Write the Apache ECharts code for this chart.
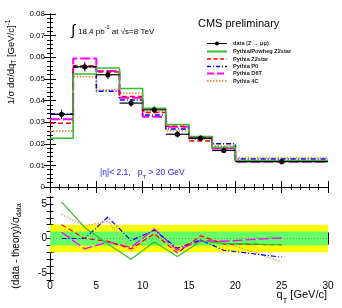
<!DOCTYPE html>
<html><head><meta charset="utf-8">
<script src="https://cdn.jsdelivr.net/npm/echarts/dist/echarts.min.js"></script>
<style>html,body{margin:0;padding:0;background:#fff}#c{width:342px;height:308px}</style>
</head><body><div id="c"></div>
<script>
// ---- data ----
const binEdges   = [0, 2.5, 5, 7.5, 10, 12.5, 15, 17.5, 20, 30];
const binCenters = [1.25, 3.75, 6.25, 8.75, 11.25, 13.75, 16.25, 18.75, 25];
const dataVals   = [0.0336, 0.0556, 0.0519, 0.0388, 0.0357, 0.0244, 0.0226, 0.0169, 0.0117];
const dataErr    = [0.0022, 0.0022, 0.0020, 0.0017, 0.0016, 0.0015, 0.0012, 0.0010, 0.0005];
const powhegZ2star = [0.0225, 0.0523, 0.0550, 0.0456, 0.0364, 0.0289, 0.0233, 0.0183, 0.0122];
const pythiaZ2star = [0.0295, 0.0561, 0.0532, 0.0419, 0.0345, 0.0281, 0.0213, 0.0183, 0.0120];
const pythiaP0     = [0.0337, 0.0555, 0.0443, 0.0402, 0.0333, 0.0268, 0.0225, 0.0200, 0.0129];
const pythiaD6T    = [0.0313, 0.0594, 0.0536, 0.0413, 0.0325, 0.0279, 0.0227, 0.0178, 0.0117];
const pythia4C     = [0.0259, 0.0510, 0.0448, 0.0433, 0.0348, 0.0260, 0.0222, 0.0190, 0.0135];
// pulls (data - theory)/sigma_data
const pullPowheg = [5.3, 1.6, -0.8, -3.0, -0.5, -2.6, -0.4, -0.7, -0.9];
const pullZ2star = [2.0, 0.0, -0.4, -1.5, 0.7, -2.1, 0.4, -0.8, -0.9];
const pullP0     = [0.0, 0.0, 3.1, -0.3, 1.2, -1.4, -0.2, -1.7, -2.7];
const pullD6T    = [0.9, -1.5, -0.5, -1.3, 1.4, -1.7, -0.3, -0.4, 0.1];
const pull4C     = [3.5, 1.8, 2.5, -1.8, 0.7, -1.6, 0.2, -0.5, -3.4];
const legendLabels = ['data (Z \u2192 \u03bc\u03bc)', 'Pythia/Powheg Z2star', 'Pythia Z2star', 'Pythia P0', 'Pythia D6T', 'Pythia 4C'];

// ---- styles ----
const C = {green:'#33bb33', red:'#ff0000', blue:'#0000ff', mag:'#ff00ff', orange:'#e89a50'};
const LS = {
  green: 'solid', red: [5,3], blue: [5,2,1,2], mag: [10,3], orange: [1.5,1.5]
};
const FONT = '"Liberation Sans", Arial, sans-serif';

function stepData(vals){
  const d = vals.map((v,i)=>[binEdges[i], v]);
  d.push([binEdges[binEdges.length-1], vals[vals.length-1]]);
  return d;
}
function pullData(vals){ return vals.map((v,i)=>[binCenters[i], v]); }

const chart = echarts.init(document.getElementById('c'), null, {renderer:'canvas'});

const frameLine = {show:true, lineStyle:{color:'#000', width:1}};
function xAx(grid, pos, labels){
  return {type:'value', gridIndex:grid, position:pos, min:0, max:30, interval:5,
    axisLine:frameLine, splitLine:{show:false},
    axisTick:{show:true, inside:true, length:6, lineStyle:{color:'#000'}},
    minorTick:{show:true, splitNumber:5, length:3, lineStyle:{color:'#000'}},
    axisLabel:{show:labels, color:'#000', fontSize:10, fontFamily:FONT, margin:1}};
}

const option = {
  animation:false,
  backgroundColor:'#fff',
  grid:[
    {left:50, top:14, width:278, height:173},
    {left:50, top:197, width:278, height:83}
  ],
  xAxis:[ xAx(0,'bottom',false), xAx(0,'top',false), xAx(1,'bottom',true), xAx(1,'top',false) ],
  yAxis:[
    {type:'value', gridIndex:0, position:'left', min:0, max:0.08, interval:0.01,
      axisLine:frameLine, splitLine:{show:false},
      axisTick:{show:true, inside:true, length:6, lineStyle:{color:'#000'}},
      minorTick:{show:true, splitNumber:5, length:3, lineStyle:{color:'#000'}},
      axisLabel:{color:'#000', fontSize:8, fontFamily:FONT, margin:5,
        formatter:v=> v===0 ? '0' : v.toFixed(2)}},
    {type:'value', gridIndex:0, position:'right', min:0, max:0.08, interval:0.01,
      axisLine:frameLine, splitLine:{show:false},
      axisTick:{show:true, inside:true, length:6, lineStyle:{color:'#000'}},
      minorTick:{show:true, splitNumber:5, length:3, lineStyle:{color:'#000'}},
      axisLabel:{show:false}},
    {type:'value', gridIndex:1, position:'left', min:-6, max:6, interval:1,
      axisLine:frameLine, splitLine:{show:false},
      axisTick:{show:true, inside:true, length:3.5, lineStyle:{color:'#000'}},
      axisLabel:{color:'#000', fontSize:10, fontFamily:FONT, margin:3,
        formatter:v=> (Math.round(v)%5===0 ? String(Math.round(v)) : '')}},
    {type:'value', gridIndex:1, position:'right', min:-6, max:6, interval:1,
      axisLine:frameLine, splitLine:{show:false},
      axisTick:{show:true, inside:true, length:3.5, lineStyle:{color:'#000'}},
      axisLabel:{show:false}}
  ],
  series:[
    // top panel histograms
    {type:'line', xAxisIndex:0, yAxisIndex:0, step:'end', symbol:'none', data:stepData(pythia4C), lineStyle:{color:C.orange, width:2, type:LS.orange}, z:3},
    {type:'line', xAxisIndex:0, yAxisIndex:0, step:'end', symbol:'none', data:stepData(pythiaD6T), lineStyle:{color:C.mag, width:2, type:LS.mag}, z:3},
    {type:'line', xAxisIndex:0, yAxisIndex:0, step:'end', symbol:'none', data:stepData(pythiaP0), lineStyle:{color:C.blue, width:1.5, type:LS.blue}, z:3},
    {type:'line', xAxisIndex:0, yAxisIndex:0, step:'end', symbol:'none', data:stepData(pythiaZ2star), lineStyle:{color:C.red, width:1.5, type:LS.red}, z:3},
    {type:'line', xAxisIndex:0, yAxisIndex:0, step:'end', symbol:'none', data:stepData(powhegZ2star), lineStyle:{color:C.green, width:1.5, type:LS.green}, z:3},
    // data points
    {type:'custom', xAxisIndex:0, yAxisIndex:0, z:10,
      data: dataVals.map((v,i)=>[binEdges[i], binEdges[i+1], binCenters[i], v, dataErr[i]]),
      encode:{x:[0,1,2], y:[3]},
      renderItem:(p,api)=>{
        const x0=api.value(0), x1=api.value(1), xc=api.value(2), v=api.value(3), e=api.value(4);
        const a=api.coord([x0,v]), b=api.coord([x1,v]), t=api.coord([xc,v+e]), bt=api.coord([xc,v-e]), c=api.coord([xc,v]);
        return {type:'group', children:[
          {type:'line', shape:{x1:a[0],y1:a[1],x2:b[0],y2:b[1]}, style:{stroke:'#000', lineWidth:1.2}},
          {type:'line', shape:{x1:t[0],y1:t[1],x2:bt[0],y2:bt[1]}, style:{stroke:'#000', lineWidth:1}},
          {type:'circle', shape:{cx:c[0], cy:c[1], r:2.6}, style:{fill:'#000'}}
        ]};
      }},
    // bottom panel: bands + zero line
    {type:'line', xAxisIndex:2, yAxisIndex:2, symbol:'none', data:[[0,0],[30,0]], z:1,
      lineStyle:{color:'#888', width:1, type:[1,2]},
      markArea:{silent:true, data:[
        [{yAxis:-2, itemStyle:{color:'#ffff00', opacity:1}}, {yAxis:2}],
        [{yAxis:-1, itemStyle:{color:'#66ff66', opacity:1}}, {yAxis:1}]
      ]}},
    {type:'line', xAxisIndex:2, yAxisIndex:2, symbol:'none', data:pullData(pull4C), lineStyle:{color:C.orange, width:1.3, type:LS.orange}, z:3},
    {type:'line', xAxisIndex:2, yAxisIndex:2, symbol:'none', data:pullData(pullD6T), lineStyle:{color:C.mag, width:1.3, type:LS.mag}, z:3},
    {type:'line', xAxisIndex:2, yAxisIndex:2, symbol:'none', data:pullData(pullP0), lineStyle:{color:C.blue, width:1.2, type:LS.blue}, z:3},
    {type:'line', xAxisIndex:2, yAxisIndex:2, symbol:'none', data:pullData(pullZ2star), lineStyle:{color:C.red, width:1.2, type:LS.red}, z:3},
    {type:'line', xAxisIndex:2, yAxisIndex:2, symbol:'none', data:pullData(pullPowheg), lineStyle:{color:C.green, width:1.2, type:LS.green}, z:3}
  ]
};

// ---- text / legend graphics ----
const g = [];
g.push({type:'text', x:198, y:24, style:{text:'CMS preliminary', font:'11px '+FONT, fill:'#000', verticalAlign:'middle'}});
g.push({type:'text', x:71, y:31, style:{text:'\u222b', font:'15px '+FONT, fill:'#000', verticalAlign:'middle'}});
g.push({type:'text', x:78, y:30, style:{
  text:'{a|18.4 pb}{s|-1}{a| at \u221as=8 TeV}', verticalAlign:'middle', fill:'#000',
  rich:{a:{fontSize:8, fontFamily:FONT, verticalAlign:'bottom', lineHeight:11},
        s:{fontSize:5.5, fontFamily:FONT, verticalAlign:'top', lineHeight:11}}}});
// legend
const legY = [43.5, 51.5, 59, 66.5, 73.5, 81];
const legStyles = [null,
  {stroke:C.green, lineWidth:2},
  {stroke:C.red, lineWidth:1.5, lineDash:[4,2.5]},
  {stroke:C.blue, lineWidth:1.5, lineDash:[4,2,1,2]},
  {stroke:C.mag, lineWidth:2, lineDash:[7,3]},
  {stroke:C.orange, lineWidth:2, lineDash:[1.5,1.5]}];
legendLabels.forEach((lab,i)=>{
  const y = legY[i];
  if(i===0){
    g.push({type:'line', shape:{x1:207,y1:y,x2:227,y2:y}, style:{stroke:'#000', lineWidth:1}});
    g.push({type:'circle', shape:{cx:217, cy:y, r:2}, style:{fill:'#000'}});
  } else {
    g.push({type:'line', shape:{x1:207,y1:y,x2:227,y2:y}, style:legStyles[i]});
  }
  g.push({type:'text', x:233, y:y, style:{text:lab, font:'bold 5.6px '+FONT, fill:'#222', verticalAlign:'middle'}});
});
// cut text
g.push({type:'text', x:100, y:174, style:{
  text:'{a||\u03b7|< 2.1,   p}{b|T}{a| > 20 GeV}', verticalAlign:'middle', fill:'#2222ee',
  rich:{a:{fontSize:8.5, fontFamily:FONT, fill:'#2222ee', verticalAlign:'top', lineHeight:12},
        b:{fontSize:6, fontFamily:FONT, fill:'#2222ee', verticalAlign:'bottom', lineHeight:12}}}});
// x title
g.push({type:'text', x:327, y:297, style:{
  text:'{a|q}{b|T}{a| [GeV/c]}', align:'right', verticalAlign:'middle', fill:'#000',
  rich:{a:{fontSize:11, fontFamily:FONT, verticalAlign:'top', lineHeight:15},
        b:{fontSize:7.5, fontFamily:FONT, verticalAlign:'bottom', lineHeight:15}}}});
// y titles
g.push({type:'text', x:11, y:62, rotation:Math.PI/2, style:{
  text:'{a|1/\u03c3 d\u03c3/dq}{b|T}{a| [GeV/c]}{s|-1}', align:'center', verticalAlign:'middle', fill:'#000',
  rich:{a:{fontSize:9.5, fontFamily:FONT, verticalAlign:'middle', lineHeight:13},
        b:{fontSize:6.5, fontFamily:FONT, verticalAlign:'bottom', lineHeight:13},
        s:{fontSize:6.5, fontFamily:FONT, verticalAlign:'top', lineHeight:13}}}});
g.push({type:'text', x:16, y:246, rotation:Math.PI/2, style:{
  text:'{a|(data - theory)/\u03c3}{b|data}', align:'center', verticalAlign:'middle', fill:'#000',
  rich:{a:{fontSize:10, fontFamily:FONT, verticalAlign:'middle', lineHeight:14},
        b:{fontSize:7, fontFamily:FONT, verticalAlign:'bottom', lineHeight:14}}}});
option.graphic = g;
chart.setOption(option);
</script>
</body></html>
